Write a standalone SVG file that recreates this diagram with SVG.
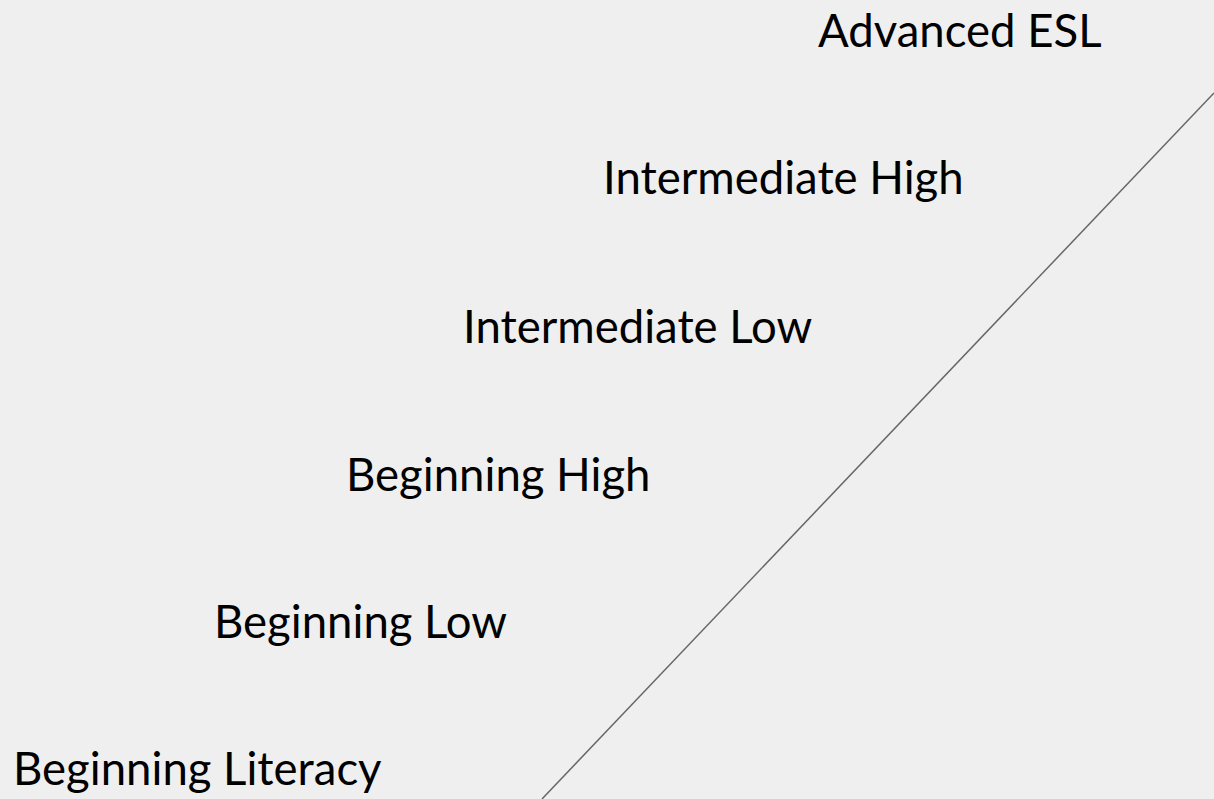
<svg xmlns="http://www.w3.org/2000/svg" width="1214" height="799" viewBox="0 0 1214 799">
<style>
.lbl{font-family:Lato,"Liberation Sans",sans-serif;font-size:45.5px;fill:#000}
</style>
<rect width="1214" height="799" fill="#efefef"/>
<g id="connectors">
<line x1="542" y1="799" x2="1214" y2="93" stroke="#666" stroke-width="1.5"/>
</g>
<g id="advanced-esl"><text class="lbl" x="818" y="47">Advanced ESL</text></g>
<g id="intermediate-high"><text class="lbl" x="603" y="194">Intermediate High</text></g>
<g id="intermediate-low"><text class="lbl" x="463" y="343">Intermediate Low</text></g>
<g id="beginning-high"><text class="lbl" x="346" y="491">Beginning High</text></g>
<g id="beginning-low"><text class="lbl" x="214" y="638">Beginning Low</text></g>
<g id="beginning-literacy"><text class="lbl" x="13" y="785">Beginning Literacy</text></g>
</svg>
